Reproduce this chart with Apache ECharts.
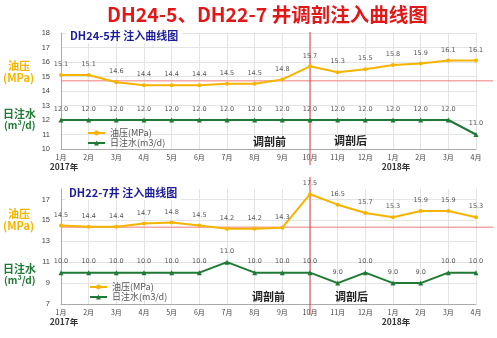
<!DOCTYPE html>
<html>
<head>
<meta charset="utf-8">
<script src="https://cdn.jsdelivr.net/npm/echarts@6/dist/echarts.min.js"></script>
<style>
  html, body { margin: 0; padding: 0; background: #fff; }
  #main { width: 497px; height: 338px; }
</style>
</head>
<body>
<div id="main"></div>
<script>
// Month categories (Jan 2017 .. Apr 2018)
const months = ['1月','2月','3月','4月','5月','6月','7月','8月','9月','10月','11月','12月','1月','2月','3月','4月'];

// DH24-5 well
const pressureA = [15.1, 15.1, 14.6, 14.4, 14.4, 14.4, 14.5, 14.5, 14.8, 15.7, 15.3, 15.5, 15.8, 15.9, 16.1, 16.1];
const waterA    = [12.0, 12.0, 12.0, 12.0, 12.0, 12.0, 12.0, 12.0, 12.0, 12.0, 12.0, 12.0, 12.0, 12.0, 12.0, 11.0];

// DH22-7 well
const pressureB = [14.5, 14.4, 14.4, 14.7, 14.8, 14.5, 14.2, 14.2, 14.3, 17.5, 16.5, 15.7, 15.3, 15.9, 15.9, 15.3];
const waterB    = [10.0, 10.0, 10.0, 10.0, 10.0, 10.0, 11.0, 10.0, 10.0, 10.0, 9.0, 10.0, 9.0, 9.0, 10.0, 10.0];

// Reference pressure levels and treatment month
const refPressureA = 14.7;
const refPressureB = 14.35;
const treatIndex = 9;

const ORANGE = '#f4b400';
const GREEN = '#1e7a34';
const RED = '#e23b3b';
const CJK = '"Noto Sans CJK SC", "Noto Sans", sans-serif';

const chart = echarts.init(document.getElementById('main'), null, { renderer: 'canvas' });

function xAxisDef(gridIndex) {
  return {
    type: 'category', gridIndex, data: months, boundaryGap: false,
    axisLine: { lineStyle: { color: '#aaa' } },
    axisTick: { show: false },
    splitLine: { show: true, lineStyle: { color: '#e4e4e4' } },
    axisLabel: {
      fontFamily: CJK, fontSize: 7, color: '#444', margin: 5, interval: 0,
      formatter: (v, i) => i === 0 ? v + '\n{y|2017年}' : (i === 12 ? v + '\n{y|2018年}' : v),
      rich: { y: { fontFamily: CJK, fontSize: 8.5, color: '#333', fontWeight: 'bold', padding: [0, 0, 0, 6], lineHeight: 11 } }
    }
  };
}

function labelDef() {
  return { show: true, position: 'top', distance: 5, fontSize: 6.5, color: '#555', fontFamily: 'DejaVu Sans', formatter: p => p.value.toFixed(1) };
}

function pressureSeries(name, data, xi, yi) {
  return {
    name, type: 'line', xAxisIndex: xi, yAxisIndex: yi, data,
    symbol: 'circle', symbolSize: 4,
    lineStyle: { color: ORANGE, width: 2 }, itemStyle: { color: ORANGE },
    label: labelDef(), z: 3
  };
}

function waterSeries(name, data, xi, yi) {
  return {
    name, type: 'line', xAxisIndex: xi, yAxisIndex: yi, data,
    symbol: 'triangle', symbolSize: 5,
    lineStyle: { color: GREEN, width: 2 }, itemStyle: { color: GREEN },
    label: labelDef(), z: 3
  };
}

const leftLabel = (text, x, y, color, size) => ({
  type: 'text', left: x, top: y,
  style: { text, fill: color, font: 'bold ' + size + 'px ' + CJK }
});

const legendText = { fontSize: 9, lineHeight: 10, color: '#555', fontFamily: CJK };

const option = {
  animation: false,
  backgroundColor: '#fff',
  title: [
    { text: 'DH24-5、DH22-7 井调剖注入曲线图', left: 102, top: 0,
      textStyle: { color: '#e01818', fontSize: 19.5, fontWeight: 'bold', fontFamily: CJK } },
    { text: 'DH24-5井 注入曲线图', left: 66, top: 28, backgroundColor: '#fff', padding: [2, 4],
      textStyle: { color: '#1c1c9a', fontSize: 11, fontWeight: 'bold', fontFamily: CJK } },
    { text: 'DH22-7井 注入曲线图', left: 65, top: 185, backgroundColor: '#fff', padding: [2, 4],
      textStyle: { color: '#1c1c9a', fontSize: 11, fontWeight: 'bold', fontFamily: CJK } }
  ],
  legend: [
    { data: ['油压(MPa)', '日注水(m3/d)'], left: 82, top: 123, orient: 'vertical', itemGap: 0,
      itemWidth: 17, itemHeight: 6, textStyle: legendText },
    { data: ['油压(MPa) ', '日注水(m3/d) '], left: 84, top: 277, orient: 'vertical', itemGap: 0,
      itemWidth: 17, itemHeight: 6, textStyle: legendText }
  ],
  grid: [
    { left: 61, right: 21, top: 33, height: 116 },
    { left: 61, right: 21, top: 189, height: 115 }
  ],
  xAxis: [xAxisDef(0), xAxisDef(1)],
  yAxis: [
    { type: 'value', gridIndex: 0, min: 10, max: 18, interval: 1,
      axisLine: { show: true, lineStyle: { color: '#aaa' } }, axisTick: { show: false },
      splitLine: { lineStyle: { color: '#e4e4e4' } },
      axisLabel: { fontSize: 7.5, color: '#444', margin: 11 } },
    { type: 'value', gridIndex: 1, min: 7, max: 18, interval: 1,
      axisLine: { show: true, lineStyle: { color: '#aaa' } }, axisTick: { show: false },
      splitLine: { lineStyle: { color: ['#e4e4e4', 'rgba(0,0,0,0)'] } },
      axisLabel: { fontSize: 7.5, color: '#444', margin: 11, formatter: v => (v % 2 === 1 ? String(v) : '') } }
  ],
  series: [
    pressureSeries('油压(MPa)', pressureA, 0, 0),
    waterSeries('日注水(m3/d)', waterA, 0, 0),
    pressureSeries('油压(MPa) ', pressureB, 1, 1),
    waterSeries('日注水(m3/d) ', waterB, 1, 1)
  ]
};

chart.setOption(option);

// Reference lines and annotations placed through the axes' own scales
const xTreat = chart.convertToPixel({ xAxisIndex: 0 }, treatIndex);
const xLeft = chart.convertToPixel({ xAxisIndex: 0 }, 0);
const yRefA = chart.convertToPixel({ yAxisIndex: 0 }, refPressureA);
const yRefB = chart.convertToPixel({ yAxisIndex: 1 }, refPressureB);
const yTopA = chart.convertToPixel({ yAxisIndex: 0 }, 18);
const yBotA = chart.convertToPixel({ yAxisIndex: 0 }, 10);
const yTopB = chart.convertToPixel({ yAxisIndex: 1 }, 18);
const yBotB = chart.convertToPixel({ yAxisIndex: 1 }, 7);
const W = chart.getWidth();

chart.setOption({
  graphic: [
    { type: 'line', shape: { x1: xLeft, y1: yRefA, x2: W - 4, y2: yRefA }, style: { stroke: '#f07a7a', lineWidth: 1 }, z: 2 },
    { type: 'line', shape: { x1: xLeft, y1: yRefB, x2: W - 4, y2: yRefB }, style: { stroke: '#f07a7a', lineWidth: 1 }, z: 2 },
    { type: 'line', shape: { x1: xTreat, y1: yTopA - 1, x2: xTreat, y2: yBotA + 16 }, style: { stroke: RED, lineWidth: 1 }, z: 2 },
    { type: 'line', shape: { x1: xTreat, y1: yTopB - 12, x2: xTreat, y2: yBotB + 11 }, style: { stroke: RED, lineWidth: 1 }, z: 2 },
    { type: 'text', left: xTreat - 57, top: yBotA - 13, style: { text: '调剖前', fill: '#222', font: 'bold 11px ' + CJK }, z: 4 },
    { type: 'text', left: xTreat + 24, top: yBotA - 14, style: { text: '调剖后', fill: '#222', font: 'bold 11px ' + CJK }, z: 4 },
    { type: 'text', left: xTreat - 58, top: yBotB - 13, style: { text: '调剖前', fill: '#222', font: 'bold 11px ' + CJK }, z: 4 },
    { type: 'text', left: xTreat + 25, top: yBotB - 13, style: { text: '调剖后', fill: '#222', font: 'bold 11px ' + CJK }, z: 4 },
    leftLabel('油压', 8, 60, ORANGE, 11),
    leftLabel('(MPa)', 3, 72, ORANGE, 11),
    leftLabel('日注水', 3, 108, GREEN, 11),
    leftLabel('(m³/d)', 4, 120, GREEN, 10),
    leftLabel('油压', 8, 208, ORANGE, 11),
    leftLabel('(MPa)', 3, 220, ORANGE, 11),
    leftLabel('日注水', 3, 263, GREEN, 11),
    leftLabel('(m³/d)', 4, 275, GREEN, 10)
  ]
});
</script>
</body>
</html>
